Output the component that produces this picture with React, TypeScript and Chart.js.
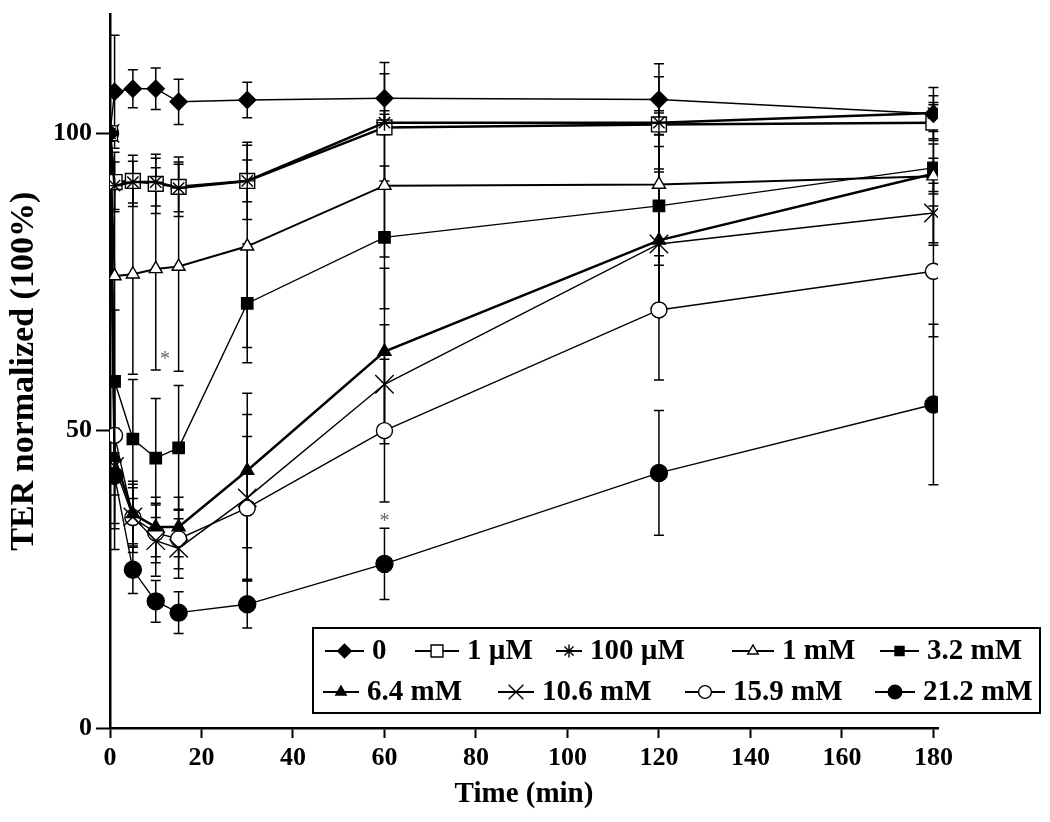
import React, { useEffect, useRef } from 'react';
import { Chart, registerables } from 'chart.js';
import { drawPoint } from 'chart.js/helpers';

Chart.register(...registerables);

// ---- data ----
const times = [0, 1, 5, 10, 15, 30, 60, 120, 180];
const seriesNames = ['0', '1 µM', '100 µM', '1 mM', '3.2 mM', '6.4 mM', '10.6 mM', '15.9 mM', '21.2 mM'];

const ter0 = [100, 107, 107.5, 107.5, 105.3, 105.6, 105.9, 105.7, 103.3];
const ter1uM = [100, 91.8, 92, 91.5, 91, 92, 101, 101.5, 101.8];
const ter100uM = [100, 91.2, 91.8, 91.8, 90.8, 92, 101.8, 101.8, 103.4];
const ter1mM = [100, 76, 76.3, 77.2, 77.6, 81, 91.2, 91.4, 92.8];
const ter3_2mM = [100, 58.3, 48.6, 45.4, 47.1, 71.4, 82.5, 87.8, 94.2];
const ter6_4mM = [100, 45.5, 36, 33.8, 33.8, 43.3, 63.3, 82, 93.2];
const ter10_6mM = [100, 44, 35.5, 31.5, 30.2, 38.7, 57.8, 81.4, 86.6];
const ter15_9mM = [100, 49.2, 35.4, 32.8, 31.8, 37, 50, 70.3, 76.8];
const ter21_2mM = [100, 42.4, 26.6, 21.3, 19.4, 20.8, 27.6, 42.9, 54.4];

const err0 = [0, 9.5, 3.2, 3.5, 3.8, 3, 6, 6, 3];
const err1uM = [0, 5, 4.3, 5, 5, 6.5, 9, 8, 3];
const err100uM = [0, 4, 3.5, 4, 4, 3.5, 2, 2, 4.3];
const err1mM = [0, 17, 16.8, 17, 17.6, 17, 12, 12, 3];
const err3_2mM = [0, 12, 10, 10, 10.5, 10, 12, 10, 4];
const err6_4mM = [0, 12, 5, 5, 5, 13, 14, 12, 12];
const err10_6mM = [0, 14, 6, 6, 5, 14, 10, 10, 5];
const err15_9mM = [0, 10, 5, 5, 5, 12, 12, 11.8, 11];
const err21_2mM = [0, 8, 4, 3.5, 3.5, 4, 6, 10.5, 13.5];

const xTickValues = [0, 20, 40, 60, 80, 100, 120, 140, 160, 180];
const yTickValues = [0, 50, 100];

const asteriskX = [12, 60];
const asteriskY = [62.6, 35.3];

const seriesValues = [ter0, ter1uM, ter100uM, ter1mM, ter3_2mM, ter6_4mM, ter10_6mM, ter15_9mM, ter21_2mM];
const seriesErrors = [err0, err1uM, err100uM, err1mM, err3_2mM, err6_4mM, err10_6mM, err15_9mM, err21_2mM];

// ---- styles ----
const STYLES = [
  { ps: 'rectRot', r: 8.5, fill: '#000', lw: 1.4, order: 0 },
  { ps: 'rect', r: 10.5, fill: '#fff', lw: 2.5, order: 2 },
  { ps: 'star', r: 8, fill: '#fff', lw: 2.5, order: 1 },
  { ps: 'triangle', r: 7.5, fill: '#fff', lw: 2, order: 3 },
  { ps: 'rect', r: 8, fill: '#000', lw: 1.4, order: 4 },
  { ps: 'triangle', r: 7.5, fill: '#000', lw: 2.5, order: 5 },
  { ps: 'crossRot', r: 13, fill: '#fff', lw: 1.4, order: 6 },
  { ps: 'circle', r: 8, fill: '#fff', lw: 1.4, order: 7 },
  { ps: 'circle', r: 8.5, fill: '#000', lw: 1.4, order: 8 },
];

const FONT = '"Liberation Serif", "Times New Roman", serif';

// legend layout (pixels)
const LEGEND_BOX = { x: 313, y: 628, w: 727, h: 85 };
const LEGEND_ROWS = [
  { y: 651, items: [0, 1, 2, 3, 4], lineX: [325, 415, 556, 732, 880], textX: [372, 467, 590, 782, 927] },
  { y: 692, items: [5, 6, 7, 8], lineX: [323, 498, 685, 875], textX: [367, 542, 733, 923] },
];

const errorBarPlugin = {
  id: 'errorBars',
  beforeDatasetsDraw(chart: any) {
    const { ctx, scales } = chart;
    const x = scales.x;
    const y = scales.y;
    ctx.save();
    ctx.strokeStyle = '#000';
    ctx.lineWidth = 1.5;
    seriesValues.forEach((vals, si) => {
      const errs = seriesErrors[si];
      times.forEach((t, i) => {
        const e = errs[i];
        if (!e) return;
        const px = x.getPixelForValue(t);
        const top = y.getPixelForValue(vals[i] + e);
        const bot = y.getPixelForValue(vals[i] - e);
        ctx.beginPath();
        ctx.moveTo(px, top);
        ctx.lineTo(px, bot);
        ctx.moveTo(px - 5, top);
        ctx.lineTo(px + 5, top);
        ctx.moveTo(px - 5, bot);
        ctx.lineTo(px + 5, bot);
        ctx.stroke();
      });
    });
    ctx.restore();
  },
  afterDatasetsDraw(chart: any) {
    const { ctx, scales } = chart;
    ctx.save();
    ctx.fillStyle = '#666';
    ctx.font = `20px ${FONT}`;
    ctx.textAlign = 'center';
    ctx.textBaseline = 'middle';
    asteriskX.forEach((ax, i) => {
      ctx.fillText('*', scales.x.getPixelForValue(ax), scales.y.getPixelForValue(asteriskY[i]) + 4);
    });
    ctx.restore();
  },
};

const legendPlugin = {
  id: 'boxLegend',
  afterDraw(chart: any) {
    const ctx = chart.ctx;
    ctx.save();
    ctx.fillStyle = '#fff';
    ctx.fillRect(LEGEND_BOX.x, LEGEND_BOX.y, LEGEND_BOX.w, LEGEND_BOX.h);
    ctx.strokeStyle = '#000';
    ctx.lineWidth = 2;
    ctx.strokeRect(LEGEND_BOX.x, LEGEND_BOX.y, LEGEND_BOX.w, LEGEND_BOX.h);
    ctx.font = `bold 29px ${FONT}`;
    ctx.textBaseline = 'middle';
    ctx.textAlign = 'left';
    LEGEND_ROWS.forEach((row) => {
      row.items.forEach((si, k) => {
        const st = STYLES[si];
        const x0 = row.lineX[k];
        const x1 = row.textX[k] - 8;
        ctx.strokeStyle = '#000';
        ctx.lineWidth = 2;
        ctx.beginPath();
        ctx.moveTo(x0, row.y);
        ctx.lineTo(x1, row.y);
        ctx.stroke();
        ctx.fillStyle = st.fill;
        ctx.strokeStyle = '#000';
        ctx.lineWidth = 1.4;
        drawPoint(ctx, { pointStyle: st.ps, radius: st.r * 0.8, rotation: 0, borderWidth: 1.4 }, (x0 + x1) / 2, row.y);
        ctx.fillStyle = '#000';
        ctx.fillText(seriesNames[si], row.textX[k], row.y + 1);
      });
    });
    ctx.restore();
  },
};

export default function App() {
  const ref = useRef<HTMLCanvasElement | null>(null);
  useEffect(() => {
    if (!ref.current) return;
    const datasets = seriesNames.map((name, si) => {
      const st = STYLES[si];
      return {
        label: name,
        data: times.map((t, i) => ({ x: t, y: seriesValues[si][i] })),
        borderColor: '#000',
        borderWidth: st.lw,
        pointStyle: st.ps,
        pointRadius: st.r,
        pointBackgroundColor: st.fill,
        pointBorderColor: '#000',
        pointBorderWidth: 1.4,
        fill: false,
        tension: 0,
        order: st.order,
      };
    });
    const chart = new Chart(ref.current, {
      type: 'line',
      data: { datasets },
      options: {
        animation: false,
        responsive: false,
        layout: { padding: { left: 0, right: 112, top: 11, bottom: 0 } },
        plugins: { legend: { display: false }, tooltip: { enabled: false } },
        scales: {
          x: {
            type: 'linear',
            min: 0,
            max: 181,
            afterBuildTicks: (s: any) => {
              s.ticks = xTickValues.map((v) => ({ value: v }));
            },
            afterFit: (s: any) => {
              s.height = 94;
            },
            ticks: {
              color: '#000',
              font: { family: FONT, size: 26, weight: 'bold' },
              padding: 5,
              maxRotation: 0,
              autoSkip: false,
            },
            grid: { drawOnChartArea: false, tickLength: 10, tickColor: '#000', tickWidth: 2 },
            border: { color: '#000', width: 2.5 },
            title: {
              display: true,
              text: 'Time (min)',
              color: '#000',
              font: { family: FONT, size: 29, weight: 'bold' },
              padding: { top: 0, bottom: 10 },
            },
          },
          y: {
            type: 'linear',
            min: 0,
            max: 120,
            afterBuildTicks: (s: any) => {
              s.ticks = yTickValues.map((v) => ({ value: v }));
            },
            afterFit: (s: any) => {
              s.width = 110;
              s.paddingTop = 0;
              s.paddingBottom = 0;
            },
            ticks: {
              color: '#000',
              font: { family: FONT, size: 26, weight: 'bold' },
              padding: 4,
            },
            grid: { drawOnChartArea: false, tickLength: 14, tickColor: '#000', tickWidth: 2 },
            border: { color: '#000', width: 2.5 },
            title: {
              display: true,
              text: 'TER normalized (100%)',
              color: '#000',
              font: { family: FONT, size: 34, weight: 'bold' },
              padding: { top: 4, bottom: 0 },
            },
          },
        },
      },
      plugins: [errorBarPlugin, legendPlugin],
    } as any);
    return () => chart.destroy();
  }, []);
  return (
    <div style={{ position: 'fixed', left: 0, top: 0, width: 1050, height: 822, background: '#fff' }}>
      <canvas ref={ref} width={1050} height={822} style={{ display: 'block' }} />
    </div>
  );
}
